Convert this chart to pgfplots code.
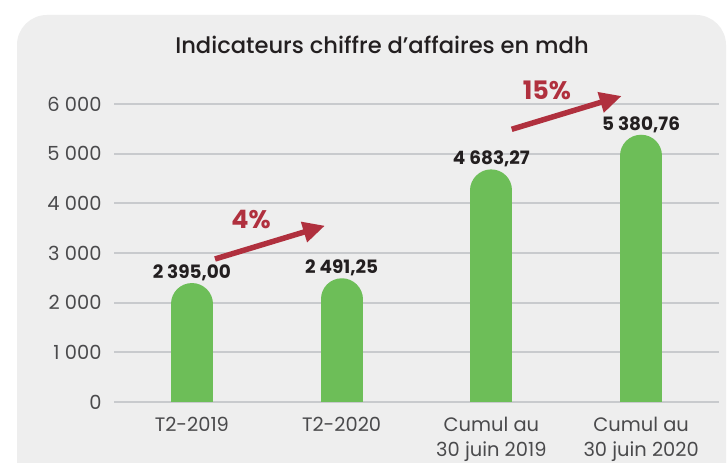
\documentclass[border=0pt]{standalone}
\usepackage{pgfplots}
\pgfplotsset{compat=1.18}
\usetikzlibrary{arrows.meta}
\usepackage{fontspec}
\setmainfont{Poppins}
\newfontfamily\medfont{Poppins}[UprightFont={* Medium}, BoldFont={* SemiBold}]
\definecolor{bgc}{HTML}{EEEEEE}
\definecolor{gridc}{HTML}{C8CACD}
\definecolor{barg}{HTML}{6DBE58}
\definecolor{arrowred}{HTML}{B0303E}
\definecolor{tickc}{HTML}{4A4A4C}
\definecolor{valc}{HTML}{231F20}
\begin{document}
\begin{tikzpicture}[x=1bp,y=1bp]
\path[use as bounding box] (0,0) rectangle (728,463);
\fill[white] (0,0) rectangle (728,463);
\begin{scope}
\clip (0,0) rectangle (728,463);
\fill[bgc, rounded corners=30bp] (17,-60) rectangle (726,448);
\end{scope}
\node[font=\medfont\fontsize{22.7}{26}\selectfont, text=valc] at (382,418) {Indicateurs chiffre d’affaires en mdh};
\begin{axis}[
  at={(114bp,61bp)}, anchor=south west,
  scale only axis, width=605bp, height=298bp,
  xmin=-0.52, xmax=3.52, ymin=0, ymax=6000,
  axis line style={draw=none},
  major tick length=0pt,
  ymajorgrids, grid style={draw=gridc, line width=2bp},
  ytick={0,1000,2000,3000,4000,5000,6000},
  yticklabels={0,1 000,2 000,3 000,4 000,5 000,6 000},
  xtick={0,1,2,3},
  xticklabels={T2-2019,T2-2020,{Cumul au\\30 juin 2019},{Cumul au\\30 juin 2020}},
  ticklabel style={font=\fontsize{19.5}{24.5}\selectfont, text=tickc},
  xticklabel style={align=center, yshift=-12bp},
  yticklabel style={xshift=-9bp},
]
\addplot[ycomb, draw=barg, line width=42bp, line cap=round, mark=none,
  y filter/.expression={y-422.8}]
  coordinates {(0,2395) (1,2491.25) (2,4683.27) (3,5380.76)};
\addplot[draw=none, mark=none, nodes near coords, point meta=explicit symbolic,
  every node near coord/.append style={font=\fontsize{18.5}{22}\selectfont\bfseries, text=valc, anchor=base, yshift=4.5bp}]
  coordinates {(0,2395)[2 395,00] (1,2491.25)[2 491,25] (2,4683.27)[4 683,27] (3,5380.76)[5 380,76]};
\end{axis}
\draw[arrowred, line width=5.5bp, -{Triangle[length=22bp,width=20bp]}] (215,204) -- (325,237.3);
\draw[arrowred, line width=5.5bp, -{Triangle[length=22bp,width=20bp]}] (511.7,333.7) -- (621.7,367);
\node[font=\fontsize{25.5}{28}\selectfont\bfseries, text=arrowred] at (251,243) {4\%};
\node[font=\fontsize{25.5}{28}\selectfont\bfseries, text=arrowred] at (547,372.3) {15\%};
\end{tikzpicture}
\end{document}
